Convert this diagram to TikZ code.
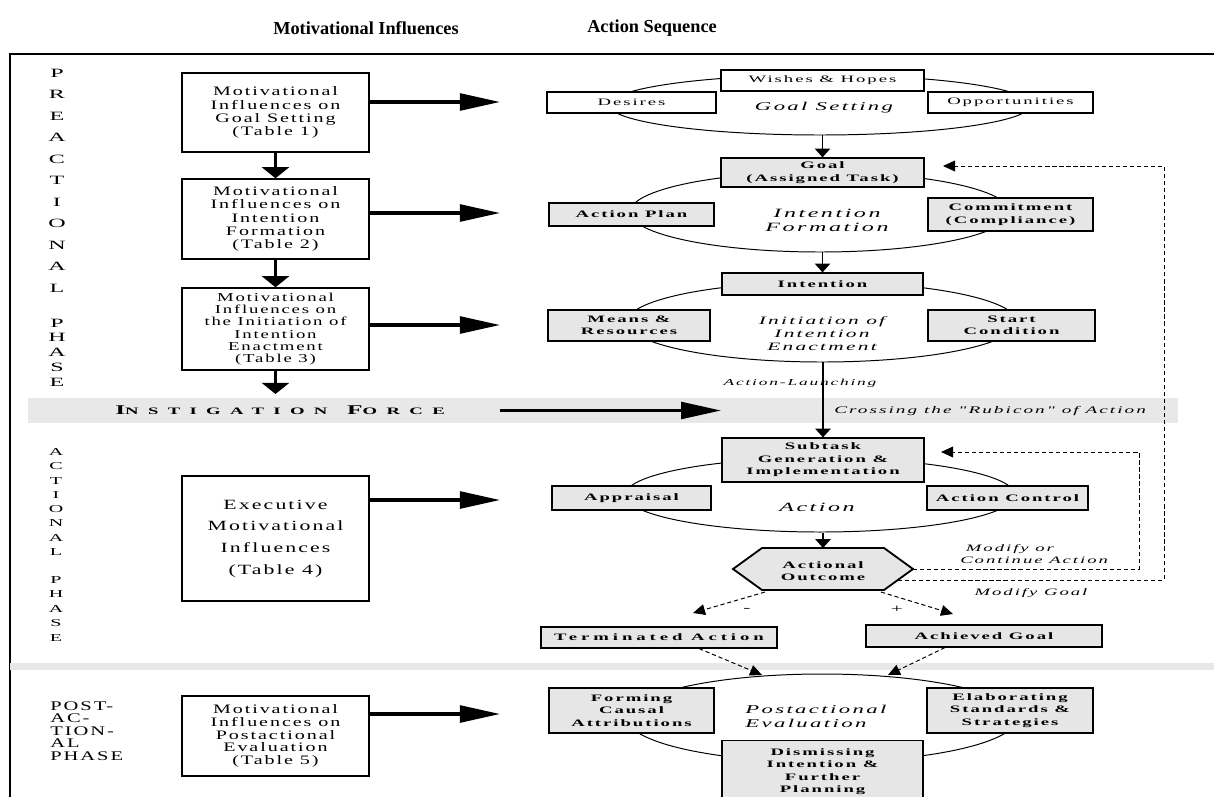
\documentclass[tikz,border=0pt]{standalone}
\usepackage{fontspec}
\setmainfont{Liberation Serif}
\newfontfamily\figfont[FakeStretch=1.9,LetterSpace=20]{Liberation Serif}
\newfontfamily\leftfont[FakeStretch=1.55,LetterSpace=15]{Liberation Serif}
\newfontfamily\bandfont[FakeStretch=1.9,LetterSpace=95]{Liberation Serif}
\usepackage{xcolor}
\usepackage{tikz}
\usetikzlibrary{shapes,arrows.meta,positioning,calc,shadows}
\definecolor{boxgray}{RGB}{230,230,230}
\definecolor{bandgray}{RGB}{232,232,232}
\newcommand{\fsz}[2]{\fontsize{#1}{#2}\selectfont}

\begin{document}
\begin{tikzpicture}[
    x=0.025cm, y=-0.025cm,
    sz/.style 2 args={minimum width=#1*0.025cm, minimum height=#2*0.025cm},
    lbox/.style={draw, line width=1pt, fill=white, inner sep=0pt, align=center, font=\leftfont\fsz{9.2}{9.4}},
    wbox/.style={draw, line width=0.8pt, fill=white, inner sep=0pt, align=center, font=\figfont\fsz{7}{8.9},
        drop shadow={shadow xshift=0.6pt, shadow yshift=-0.6pt, fill=black!75, opacity=1}},
    gbox/.style={wbox, fill=boxgray, font=\figfont\bfseries\fsz{7}{8.9}},
    ell/.style={draw, ellipse, line width=0.7pt, inner sep=0pt},
    lab/.style={font=\figfont\itshape\fsz{8.5}{10}, align=center, inner sep=0pt},
    note/.style={font=\figfont\itshape\fsz{7}{8.5}, inner sep=0pt},
    phase/.style={font=\figfont\fsz{9}{10}, inner sep=0pt},
    bigarrow/.style={line width=2.2pt, -{Triangle[length=1cm,width=0.42cm]}},
    downarrow/.style={line width=2.2pt, -{Triangle[length=0.28cm,width=0.68cm]}},
    seqarrow/.style={line width=1pt, -{Triangle[length=0.22cm,width=0.38cm]}},
    fbarrow/.style={line width=0.7pt, dash pattern=on 3pt off 2pt, -{Triangle[length=0.3cm,width=0.27cm]}}
]
\useasboundingbox (0,0) rectangle (1214,796);

% headings
\node[font=\bfseries\fsz{13}{15}] (hdmot) at (366,28) {Motivational Influences};
\node[font=\bfseries\fsz{13}{15}] (hdact) at (652,28) {Action Sequence};

% frame and bands
\draw[line width=1.5pt] (10,800) -- (10,54) -- (1220,54);
\fill[bandgray] (28,398) rectangle (1178,423);
\fill[bandgray] (10,663) rectangle (1214,670);

% phase labels
\foreach \ch [count=\i] in {P,R,E,A,C,T,I,O,N,A,L}
    \node[phase] (pre\i) at (57,{73+21.5*(\i-1)}) {\ch};
\foreach \ch [count=\i] in {P,H,A,S,E}
    \node[phase] (preph\i) at (57,{323+14.8*(\i-1)}) {\ch};
\foreach \ch [count=\i] in {A,C,T,I,O,N,A,L}
    \node[phase, font=\figfont\fsz{7.5}{9}] (act\i) at (56,{452+14.3*(\i-1)}) {\ch};
\foreach \ch [count=\i] in {P,H,A,S,E}
    \node[phase, font=\figfont\fsz{7.5}{9}] (actph\i) at (56,{580+14.5*(\i-1)}) {\ch};
\node[font=\leftfont\fsz{9.4}{8.9}, align=left, anchor=north west, inner sep=0pt] (postph) at (50,701) {POST-\\AC-\\TION-\\AL\\PHASE};

% motivational influences
\node[lbox, sz={187}{79}] (mot1) at (275.5,112.5) {Motivational\\Influences on\\Goal Setting\\(Table 1)};
\node[lbox, sz={187}{80}] (mot2) at (275.5,219) {Motivational\\Influences on\\Intention\\Formation\\(Table 2)};
\node[lbox, sz={187}{82}, font=\leftfont\fsz{8.6}{8.7}] (mot3) at (275.5,329) {Motivational\\Influences on\\the Initiation of\\Intention\\Enactment\\(Table 3)};
\node[lbox, sz={187}{125}, font=\leftfont\fsz{10}{15.4}] (exec) at (275.5,538.5) {Executive\\Motivational\\Influences\\(Table 4)};
\node[lbox, sz={187}{80}, font=\leftfont\fsz{9.2}{9}] (post) at (275.5,736) {Motivational\\Influences on\\Postactional\\Evaluation\\(Table 5)};

\coordinate (m3end) at (275.5,394);
\draw[downarrow] (mot1) -- (mot2);
\draw[downarrow] (mot2) -- (mot3);
\draw[downarrow] (mot3) -- (m3end);

\foreach \src/\yy in {mot1/102, mot2/213, mot3/325, exec/500, post/714} {
    \coordinate (tip-\src) at (500,\yy);
    \draw[bigarrow] (\src.east |- tip-\src) -- (tip-\src);
}

% instigation force
\node[font=\bandfont\bfseries, inner sep=0pt, anchor=west] (instig) at (115,410.5)
    {{\fsz{9.5}{10}I}{\fsz{7}{10}NSTIGATION}\hspace{14pt}{\fsz{9.5}{10}F}{\fsz{7}{10}ORCE}};
\coordinate (instS) at (500,410.5);
\coordinate (instE) at (721,410.5);
\draw[bigarrow] (instS) -- (instE);

% action sequence: phases
\node[ell, sz={422}{60}] (e1) at (820,105) {};
\node[ell, sz={380}{80}] (e2) at (820,212) {};
\node[ell, sz={390}{80}] (e3) at (822,322) {};
\node[ell, sz={390}{74}] (e4) at (820,495) {};
\node[ell, sz={390}{88}] (e5) at (822,718) {};

\node[lab] (l1) at (824,108) {Goal Setting};
\node[lab, font=\figfont\itshape\fsz{9}{10}] (l2) at (827,220) {Intention\\Formation};
\node[lab, font=\figfont\itshape\fsz{8}{9.2}] (l3) at (822,334) {Initiation of\\Intention\\Enactment};
\node[lab, font=\figfont\itshape\fsz{9}{11}] (l4) at (817,507) {Action};
\node[lab, anchor=west, align=left] (l5) at (745,716) {Postactional\\Evaluation};

\node[wbox, sz={203}{21}] (wish) at (822.5,80.5) {Wishes \& Hopes};
\node[wbox, sz={169}{21}] (des) at (631.5,102.5) {Desires};
\node[wbox, sz={165}{21}] (opp) at (1010.5,102.5) {Opportunities};

\node[gbox, sz={203}{29}] (goal) at (822.5,172.5) {Goal\\(Assigned Task)};
\node[gbox, sz={165}{23}] (plan) at (631.5,214.5) {Action Plan};
\node[gbox, sz={165}{33}] (commit) at (1010.5,214.5) {Commitment\\(Compliance)};

\node[gbox, sz={201}{22}] (intent) at (822.5,284) {Intention};
\node[gbox, sz={162}{31}] (means) at (629,325.5) {Means \&\\Resources};
\node[gbox, sz={167}{31}] (start) at (1011.5,325.5) {Start\\Condition};

\node[gbox, sz={202}{44}] (sub) at (823,460) {Subtask\\Generation \&\\Implementation};
\node[gbox, sz={159}{24}] (appr) at (631.5,498) {Appraisal};
\node[gbox, sz={161}{24}] (actc) at (1007.5,498) {Action Control};

% actional outcome
\draw[line width=1.3pt, fill=boxgray] (733,569) -- (762,548) -- (884,548) -- (913,569) -- (884,590) -- (762,590) -- cycle;
\node[font=\figfont\bfseries\fsz{7}{8.9}, align=center, inner sep=0pt] (outc) at (823,571) {Actional\\Outcome};
\coordinate (hexN) at (823,548);
\coordinate (hexE) at (913,569);
\coordinate (hexSE) at (898,580);
\coordinate (hexSW) at (765,592);
\coordinate (hexSR) at (881,592);

\node[gbox, sz={236}{21}] (term) at (659,637.5) {\addfontfeature{LetterSpace=40}Terminated Action};
\node[gbox, sz={236}{22}] (achv) at (984,636) {Achieved Goal};

\node[gbox, sz={165}{45}] (form) at (631.5,710.5) {Forming\\Causal\\Attributions};
\node[gbox, sz={166}{45}] (elab) at (1010,710.5) {Elaborating\\Standards \&\\Strategies};
\node[gbox, sz={201}{62}, anchor=north] (dism) at (822.5,740) {Dismissing\\Intention \&\\Further\\Planning};

% sequence arrows
\node[note, font=\figfont\itshape\fsz{6.5}{8}] (launch) at (800,383) {Action-Launching};
\node[note, font=\figfont\itshape\fsz{7.2}{9}, anchor=west] (rubicon) at (834,411) {Crossing the "Rubicon" of Action};
\draw[seqarrow] (goal.north |- e1.south) -- (goal.north);
\draw[seqarrow] (intent.north |- e2.south) -- (intent.north);
\draw[seqarrow, line width=1.4pt] (sub.north |- e3.south) -- (sub.north);
\draw[seqarrow] (hexN |- e4.south) -- (hexN);

% feedback loops
\coordinate (fbin) at (1139,452);
\coordinate (subin) at (941,452);
\coordinate (fbout) at (1164,166);
\coordinate (goalin) at (943,166);
\draw[fbarrow] (hexE) -| (fbin) -- (subin);
\draw[fbarrow] (hexSE) -| (fbout) -- (goalin);
\node[note, align=left, anchor=west] (modc) at (960,554) {\hspace{4pt}Modify or\\Continue Action};
\node[note] (modg) at (1031,593) {Modify Goal};

% outcomes
\coordinate (negtip) at (693,613);
\coordinate (postip) at (953,614);
\draw[fbarrow] (hexSW) -- (negtip);
\draw[fbarrow] (hexSR) -- (postip);
\node[font=\figfont\fsz{8}{9}, inner sep=0pt] (minus) at (747,610) {-};
\node[font=\figfont\fsz{8}{9}, inner sep=0pt] (plus) at (897,609) {+};

\coordinate (tipL) at (762,675);
\coordinate (tipR) at (888,675);
\draw[fbarrow] ([xshift=1cm]term.south) -- (tipL);
\draw[fbarrow] ([xshift=-0.975cm]achv.south) -- (tipR);
\end{tikzpicture}
\end{document}
